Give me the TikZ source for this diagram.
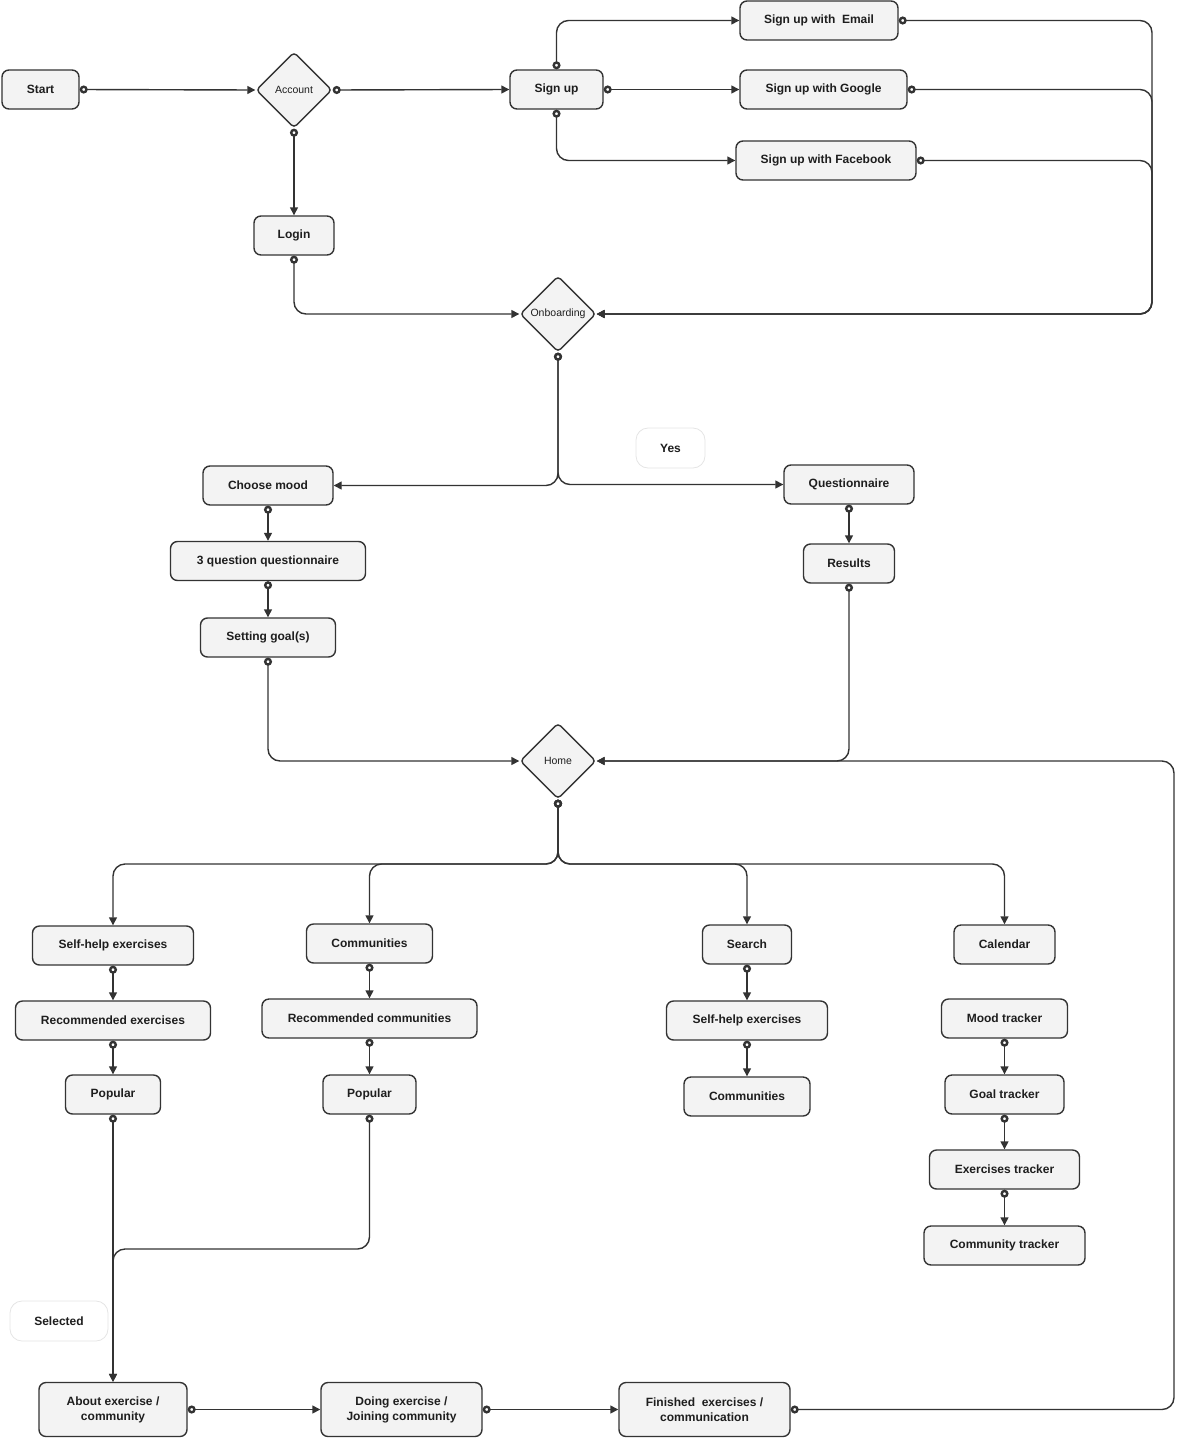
\documentclass[tikz,border=0pt]{standalone}
\usepackage{fontspec}
\setmainfont{Liberation Sans}
\usetikzlibrary{arrows.meta,shapes.geometric}

\definecolor{linec}{HTML}{333333}
\definecolor{boxfill}{HTML}{F3F3F3}
\definecolor{txtc}{HTML}{1E1E1E}

\tikzset{
  box/.style={draw=linec, fill=boxfill, line width=1.4pt, rounded corners=7pt,
    minimum height=39pt, inner sep=0pt, text=txtc, align=center,
    font=\fontsize{12}{15}\selectfont\bfseries},
  tall/.style={box, minimum height=54pt},
  choice/.style={diamond, aspect=1, draw=linec, fill=boxfill, line width=1.4pt,
    rounded corners=4pt, minimum width=76pt, minimum height=76pt, inner sep=0pt,
    text=txtc, font=\fontsize{10.5}{12}\selectfont},
  tag/.style={draw=black!10, fill=white, line width=0.8pt, rounded corners=12pt,
    minimum height=40pt, text=txtc, font=\fontsize{12}{15}\selectfont\bfseries},
  flow/.style={draw=linec, line width=1.4pt, rounded corners=12pt,
    {Circle[length=8pt,fill=white,line width=2.4pt]}-{Triangle[length=8pt,width=8pt]}}
}

\begin{document}
\begin{tikzpicture}[x=1pt,y=-1pt]
\useasboundingbox (0,0) rectangle (1177,1438);

% sign in part
\node[box, minimum width=77pt] (start) at (40.5,89.5) {Start};
\node[choice] (acc) at (294,90) {Account};
\node[box, minimum width=93pt] (sup) at (556.5,89.5) {Sign up};
\node[box, minimum width=158pt] (mail) at (819,20.5) {Sign up with\ \ Email};
\node[box, minimum width=167pt] (goog) at (823.5,89.5) {Sign up with Google};
\node[box, minimum width=180pt] (fb) at (826,160.5) {Sign up with Facebook};
\node[box, minimum width=80pt] (login) at (294,235.5) {Login};
\node[choice] (onb) at (558,314) {Onboarding};

% onboarding
\node[tag, minimum width=69pt] (yes) at (670.5,448) {Yes};
\node[box, minimum width=130pt] (mood) at (268,485.5) {Choose mood};
\node[box, minimum width=195pt] (three) at (268,561) {3 question questionnaire};
\node[box, minimum width=135pt] (goal) at (268,637.5) {Setting goal(s)};
\node[box, minimum width=130pt] (quest) at (849,484.5) {Questionnaire};
\node[box, minimum width=91pt] (res) at (849,563.5) {Results};
\node[choice] (home) at (558,761) {Home};

% home menu
\node[box, minimum width=161pt] (self) at (113,945.5) {Self-help exercises};
\node[box, minimum width=195pt] (recex) at (113,1020.5) {Recommended exercises};
\node[box, minimum width=95pt] (popa) at (113,1094.5) {Popular};
\node[box, minimum width=126pt] (comm) at (369.5,943.5) {Communities};
\node[box, minimum width=215pt] (recco) at (369.5,1018.5) {Recommended communities};
\node[box, minimum width=93pt] (popb) at (369.5,1094.5) {Popular};
\node[box, minimum width=89pt] (search) at (747,944.5) {Search};
\node[box, minimum width=161pt] (selfb) at (747,1020.5) {Self-help exercises};
\node[box, minimum width=126pt] (commb) at (747,1096.5) {Communities};
\node[box, minimum width=101pt] (cal) at (1004.5,944.5) {Calendar};
\node[box, minimum width=126pt] (moodt) at (1004.5,1018.5) {Mood tracker};
\node[box, minimum width=119pt] (goalt) at (1004.5,1094.5) {Goal tracker};
\node[box, minimum width=150pt] (exert) at (1004.5,1169.5) {Exercises tracker};
\node[box, minimum width=161pt] (commt) at (1004.5,1245.5) {Community tracker};

% selected item
\node[tag, minimum width=98pt] (sel) at (59,1321) {Selected};
\node[tall, minimum width=148pt] (about) at (113,1409.5) {About exercise /\\community};
\node[tall, minimum width=161pt] (doing) at (401.5,1409.5) {Doing exercise /\\Joining community};
\node[tall, minimum width=171pt] (fin) at (704.5,1409.5) {Finished\ \ exercises /\\communication};

\coordinate (merge) at (1152,314);
\coordinate (hb) at (558,864);
\coordinate (jn) at (369.5,1249);
\coordinate (loop) at (1174,761);

\draw[flow] (start.east) -- (acc.west);
\draw[flow] (acc.east) -- (sup.west);
\draw[flow] (acc.south) -- (login.north);
\draw[flow] (sup.north) |- (mail.west);
\draw[flow] (sup.east) -- (goog.west);
\draw[flow] (sup.south) |- (fb.west);
\draw[flow] (mail.east) -| (merge) -- (onb.east);
\draw[flow] (goog.east) -| (merge) -- (onb.east);
\draw[flow] (fb.east) -| (merge) -- (onb.east);
\draw[flow] (login.south) |- (onb.west);

\draw[flow] (onb.south) |- (mood.east);
\draw[flow] (onb.south) |- (quest.west);
\draw[flow] (mood.south) -- (three.north);
\draw[flow] (three.south) -- (goal.north);
\draw[flow] (quest.south) -- (res.north);
\draw[flow] (goal.south) |- (home.west);
\draw[flow] (res.south) |- (home.east);

\draw[flow] (home.south) -- (hb) -| (self.north);
\draw[flow] (home.south) -- (hb) -| (comm.north);
\draw[flow] (home.south) -- (hb) -| (search.north);
\draw[flow] (home.south) -- (hb) -| (cal.north);

\draw[flow] (self.south) -- (recex.north);
\draw[flow] (recex.south) -- (popa.north);
\draw[flow] (comm.south) -- (recco.north);
\draw[flow] (recco.south) -- (popb.north);
\draw[flow] (search.south) -- (selfb.north);
\draw[flow] (selfb.south) -- (commb.north);
\draw[flow] (moodt.south) -- (goalt.north);
\draw[flow] (goalt.south) -- (exert.north);
\draw[flow] (exert.south) -- (commt.north);

\draw[flow] (popa.south) -- (about.north);
\draw[flow] (popb.south) -- (jn) -| (about.north);
\draw[flow] (about.east) -- (doing.west);
\draw[flow] (doing.east) -- (fin.west);
\draw[flow] (fin.east) -| (loop) -- (home.east);
\end{tikzpicture}
\end{document}
